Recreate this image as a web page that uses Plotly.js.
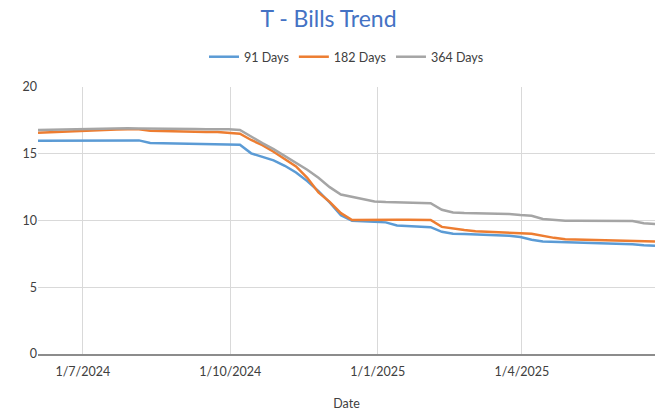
<!DOCTYPE html>
<html>
<head>
<meta charset="utf-8">
<script src="https://cdn.plot.ly/plotly-3.0.1.min.js"></script>
<style>html,body{margin:0;padding:0;background:#fff;}#chart{width:657px;height:411px;}</style>
</head>
<body>
<div id="chart"></div>
<script>
// Weekly dates (Mon) from 3 Jun 2024 to 23 Jun 2025
const dates = [
"2024-06-03","2024-06-10","2024-06-17","2024-06-24","2024-07-01","2024-07-08","2024-07-15","2024-07-22","2024-07-29",
"2024-08-05","2024-08-12","2024-08-19","2024-08-26","2024-09-02","2024-09-09","2024-09-16","2024-09-23","2024-09-30",
"2024-10-07","2024-10-14","2024-10-21","2024-10-28","2024-11-04","2024-11-11","2024-11-18","2024-11-25","2024-12-02",
"2024-12-09","2024-12-16","2024-12-23","2024-12-30","2025-01-06","2025-01-13","2025-01-20","2025-01-27","2025-02-03",
"2025-02-10","2025-02-17","2025-02-24","2025-03-03","2025-03-10","2025-03-17","2025-03-24","2025-03-31","2025-04-07",
"2025-04-14","2025-04-21","2025-04-28","2025-05-05","2025-05-12","2025-05-19","2025-05-26","2025-06-02","2025-06-09",
"2025-06-16","2025-06-23"];

const days91 = [15.98,15.98,15.99,15.99,15.99,16.00,16.01,16.03,16.02,
16.00,15.80,15.79,15.78,15.78,15.77,15.75,15.74,15.73,
15.68,15.03,14.75,14.50,14.10,13.60,12.95,12.20,11.35,
10.40,9.98,9.94,9.91,9.86,9.62,9.57,9.53,9.50,
9.15,9.00,8.98,8.96,8.92,8.90,8.85,8.76,8.56,
8.43,8.40,8.38,8.36,8.33,8.30,8.28,8.26,8.22,
8.14,8.11];

const days182 = [16.58,16.62,16.66,16.70,16.73,16.76,16.79,16.82,16.83,
16.84,16.73,16.70,16.67,16.66,16.65,16.63,16.62,16.58,
16.50,16.03,15.65,15.15,14.60,14.05,13.20,12.10,11.40,
10.55,10.04,10.03,10.03,10.04,10.05,10.05,10.05,10.04,
9.52,9.38,9.28,9.20,9.15,9.10,9.07,9.04,9.01,
8.85,8.70,8.60,8.58,8.56,8.55,8.54,8.53,8.50,
8.47,8.43];

const days364 = [16.78,16.80,16.82,16.84,16.86,16.88,16.90,16.91,16.91,
16.90,16.88,16.87,16.86,16.86,16.85,16.84,16.84,16.83,
16.78,16.27,15.80,15.35,14.85,14.33,13.80,13.20,12.50,
11.95,11.78,11.60,11.43,11.38,11.35,11.33,11.32,11.30,
10.80,10.60,10.56,10.54,10.53,10.51,10.48,10.41,10.36,
10.12,10.03,9.99,9.99,9.98,9.98,9.97,9.97,9.96,
9.79,9.74];

const seriesNames = ["91 Days","182 Days","364 Days"];
const tickDates = ["2024-07-01","2024-10-01","2025-01-01","2025-04-01"];
const tickLabels = ["1/7/2024","1/10/2024","1/1/2025","1/4/2025"];
const yTicks = [0,5,10,15,20];

const colors = ["#5B9BD5","#ED7D31","#A5A5A5"];
const vals = [days91, days182, days364];
const traces = vals.map((v,i)=>({
  x: dates, y: v, type:"scatter", mode:"lines", name: seriesNames[i],
  line:{color:colors[i], width:2.5, shape:"linear"}, hoverinfo:"skip"
}));

const font = "Lato, 'Liberation Sans', Arial, sans-serif";
const layout = {
  width:657, height:411,
  margin:{l:38, r:2, t:87, b:57},
  paper_bgcolor:"#fff", plot_bgcolor:"#fff",
  font:{family:font, size:12, color:"#595959"},
  title:{text:"T - Bills Trend", x:0.5, xanchor:"center", y:0.973, yanchor:"top",
         font:{family:font, size:23, color:"#4472C4"}},
  showlegend:true,
  legend:{orientation:"h", x:0.5, xanchor:"center", y:1.112, yanchor:"middle",
          font:{family:font, size:12.5, color:"#404040"}, itemwidth:30, traceorder:"normal"},
  xaxis:{type:"date", range:[dates[0], dates[dates.length-1]],
         tickmode:"array", tickvals:tickDates, ticktext:tickLabels,
         showgrid:true, gridcolor:"#D9D9D9", gridwidth:1,
         showline:true, linecolor:"#8C8C8C", linewidth:1.5,
         zeroline:false, ticks:"", ticklen:0, ticklabelstandoff:5,
         tickfont:{family:font, size:12.5, color:"#404040"},
         title:{text:"Date", font:{family:font, size:12.5, color:"#404040"}, standoff:30}},
  yaxis:{range:[0,20], tickmode:"array", tickvals:yTicks,
         showgrid:true, gridcolor:"#D9D9D9", gridwidth:1,
         zeroline:false, showline:false, ticks:"",
         tickfont:{family:font, size:12.5, color:"#404040"}}
};
Plotly.newPlot("chart", traces, layout, {staticPlot:true, displayModeBar:false});
</script>
</body>
</html>
